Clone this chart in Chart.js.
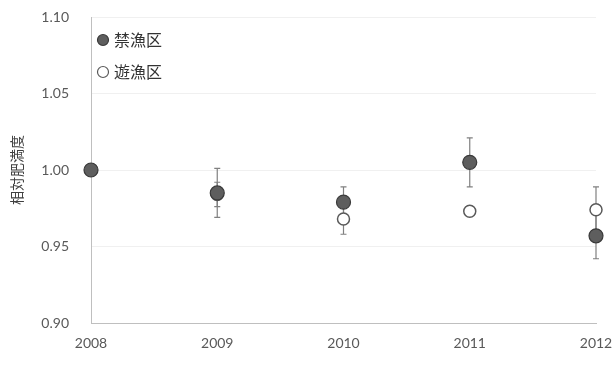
<!DOCTYPE html>
<html lang="ja">
<head>
  <meta charset="UTF-8">
  <title>相対肥満度</title>
  <script src="https://cdn.jsdelivr.net/npm/chart.js"></script>
  <style>
    html, body { margin: 0; padding: 0; background: #fff; }
    #wrap { width: 616px; height: 366px; }
  </style>
</head>
<body>
  <div id="wrap"><canvas id="grafico"></canvas></div>
<script>
  // dados
  const anos = ['2008', '2009', '2010', '2011', '2012'];
  const yTicks = [0.90, 0.95, 1.00, 1.05, 1.10];
  const kinryoMedia = [1.000, 0.985, 0.979, 1.005, 0.957];
  const kinryoErro = [0, 0.016, 0.010, 0.016, 0.015];
  const yuryoMedia = [1.000, 0.984, 0.968, 0.973, 0.974];
  const yuryoErro = [0, 0.008, 0.010, 0.002, 0.015];

  const cinza = '#595959';

  // barras de erro, desenhadas antes dos pontos
  const barrasErro = {
    id: 'barrasErro',
    beforeDatasetsDraw(chart) {
      const ctx = chart.ctx;
      const y = chart.scales.y;
      ctx.save();
      ctx.strokeStyle = '#808080';
      ctx.lineWidth = 1.2;
      chart.data.datasets.forEach((ds, i) => {
        const meta = chart.getDatasetMeta(i);
        meta.data.forEach((pt, j) => {
          const e = ds.erro[j];
          if (!e) return;
          const topo = y.getPixelForValue(ds.data[j] + e);
          const base = y.getPixelForValue(ds.data[j] - e);
          ctx.beginPath();
          ctx.moveTo(pt.x, topo); ctx.lineTo(pt.x, base);
          ctx.moveTo(pt.x - 3, topo); ctx.lineTo(pt.x + 3, topo);
          ctx.moveTo(pt.x - 3, base); ctx.lineTo(pt.x + 3, base);
          ctx.stroke();
        });
      });
      ctx.restore();
    }
  };

  // legenda dentro da área do gráfico
  const legenda = {
    id: 'legenda',
    afterDraw(chart) {
      const ctx = chart.ctx;
      const ds = chart.data.datasets;
      ctx.save();
      ctx.font = '16px "Noto Sans CJK JP"';
      ctx.textBaseline = 'middle';
      ds.forEach((d, i) => {
        const cy = 40 + i * 32;
        ctx.beginPath();
        ctx.arc(103, cy, 5.5, 0, Math.PI * 2);
        ctx.fillStyle = d.backgroundColor;
        ctx.fill();
        ctx.lineWidth = 1.2;
        ctx.strokeStyle = d.borderColor;
        ctx.stroke();
        ctx.fillStyle = '#333333';
        ctx.fillText(d.label, 114, cy);
      });
      ctx.restore();
    }
  };

  const grafico = new Chart(document.getElementById('grafico'), {
    type: 'line',
    data: {
      labels: anos,
      datasets: [{
        label: '禁漁区',
        data: kinryoMedia,
        erro: kinryoErro,
        showLine: false,
        pointRadius: 7,
        pointBackgroundColor: '#5e5e5e',
        pointBorderColor: '#3a3a3a',
        pointBorderWidth: 1.2,
        backgroundColor: '#5e5e5e',
        borderColor: '#3a3a3a',
        order: 0
      }, {
        label: '遊漁区',
        data: yuryoMedia,
        erro: yuryoErro,
        showLine: false,
        pointRadius: 6,
        pointBackgroundColor: '#ffffff',
        pointBorderColor: cinza,
        pointBorderWidth: 1.5,
        backgroundColor: '#ffffff',
        borderColor: cinza,
        order: 1
      }]
    },
    options: {
      responsive: true,
      maintainAspectRatio: false,
      animation: false,
      layout: { padding: { top: 17, right: 20, left: 0, bottom: 0 } },
      plugins: {
        legend: { display: false },
        tooltip: { enabled: false }
      },
      scales: {
        x: {
          offset: false,
          grid: { display: false, drawTicks: false },
          border: { color: '#bfbfbf' },
          ticks: {
            color: cinza,
            font: { family: 'Lato', size: 14 },
            padding: 12,
            maxRotation: 0
          },
          afterFit(scale) {
            scale.height = 43;
            scale.paddingLeft = 0;
            scale.paddingRight = 0;
          }
        },
        y: {
          min: 0.90,
          max: 1.10,
          afterBuildTicks(scale) { scale.ticks = yTicks.map(v => ({ value: v })); },
          grid: { color: '#f0f0f0', drawTicks: false },
          border: { color: '#bfbfbf' },
          ticks: {
            color: cinza,
            font: { family: 'Lato', size: 14 },
            padding: 22,
            callback: v => v.toFixed(2)
          },
          title: {
            display: true,
            text: '相対肥満度',
            color: '#404040',
            font: { family: 'Noto Sans CJK JP', size: 14 },
            padding: { top: 8, bottom: 0 }
          },
          afterFit(scale) {
            scale.width = 91;
            scale.paddingTop = 0;
            scale.paddingBottom = 0;
          }
        }
      }
    },
    plugins: [barrasErro, legenda]
  });
</script>
</body>
</html>
